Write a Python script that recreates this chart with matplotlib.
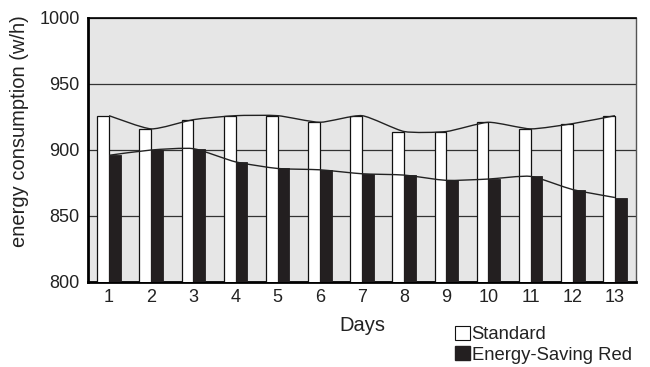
import matplotlib.pyplot as plt
import numpy as np
from matplotlib.path import Path
from matplotlib.patches import PathPatch, Patch

days = list(range(1, 14))
standard = [926, 916, 923, 926, 926, 921, 926, 914, 914, 921, 916, 920, 926]
energy_saving = [896, 900, 901, 891, 886, 885, 882, 881, 877, 878, 880, 870, 864]


def smooth_path(xs, ys, t=0.3):
    # catmull-rom style bezier through the points, like a spreadsheet "smoothed line"
    xs = np.asarray(xs, float)
    ys = np.asarray(ys, float)
    verts = [(xs[0], ys[0])]
    codes = [Path.MOVETO]
    n = len(xs)
    for i in range(n - 1):
        p0 = i - 1 if i > 0 else i
        p3 = i + 2 if i + 2 < n else i + 1
        c1 = (xs[i] + (xs[i + 1] - xs[p0]) * t / 3, ys[i] + (ys[i + 1] - ys[p0]) * t / 3)
        c2 = (xs[i + 1] - (xs[p3] - xs[i]) * t / 3, ys[i + 1] - (ys[p3] - ys[i]) * t / 3)
        verts += [c1, c2, (xs[i + 1], ys[i + 1])]
        codes += [Path.CURVE4] * 3
    return Path(verts, codes)


plt.rcParams['font.family'] = ['Liberation Sans', 'DejaVu Sans']

fig = plt.figure(figsize=(6.5, 3.67), dpi=100)
ax = fig.add_axes([88 / 650, 1 - 282 / 367, 548 / 650, 264 / 367])
ax.set_facecolor('#e6e6e6')

x = np.arange(len(days))
w = 0.28
ax.bar(x - w / 2, standard, w, bottom=0, color='white', edgecolor='#111111', linewidth=0.9, zorder=3)
ax.bar(x + w / 2, energy_saving, w, bottom=0, color='#231f20', edgecolor='#231f20', linewidth=0.6, zorder=3)

ax.add_patch(PathPatch(smooth_path(x, standard), fill=False, edgecolor='#222222', lw=1.0, zorder=4))
ax.add_patch(PathPatch(smooth_path(x, energy_saving), fill=False, edgecolor='#222222', lw=1.0, zorder=4))

ax.set_xlim(-0.5, len(days) - 0.5)
ax.set_ylim(800, 1000)
ax.set_yticks([800, 850, 900, 950, 1000])
ax.set_xticks(x)
ax.set_xticklabels([str(d) for d in days])
ax.yaxis.grid(True, color='#333333', linewidth=0.9, zorder=1)
ax.set_axisbelow(True)

ax.tick_params(axis='both', labelsize=13, length=0, pad=5, colors='#222222')
ax.tick_params(axis='y', pad=6)

ax.spines['left'].set_linewidth(2.0)
ax.spines['bottom'].set_linewidth(2.0)
ax.spines['top'].set_linewidth(1.2)
ax.spines['right'].set_linewidth(1.0)
ax.spines['right'].set_color('#555555')

ax.set_ylabel('energy consumption (w/h)', fontsize=14.5, color='#222222')
ax.yaxis.set_label_coords(-0.108, 0.572)
ax.set_xlabel('Days', fontsize=14.5, labelpad=7, color='#222222')

handles = [Patch(facecolor='white', edgecolor='#111111', linewidth=0.8, label='Standard'),
           Patch(facecolor='#231f20', edgecolor='#231f20', label='Energy-Saving Red')]
fig.legend(handles=handles, loc='upper left', bbox_to_anchor=(455 / 650, 1 - 326 / 367),
           frameon=False, fontsize=13.3, handlelength=0.8, handleheight=0.8,
           handletextpad=0.1, labelspacing=0.15, borderpad=0, borderaxespad=0,
           labelcolor='#222222')

fig.savefig('out.png', dpi=100)
